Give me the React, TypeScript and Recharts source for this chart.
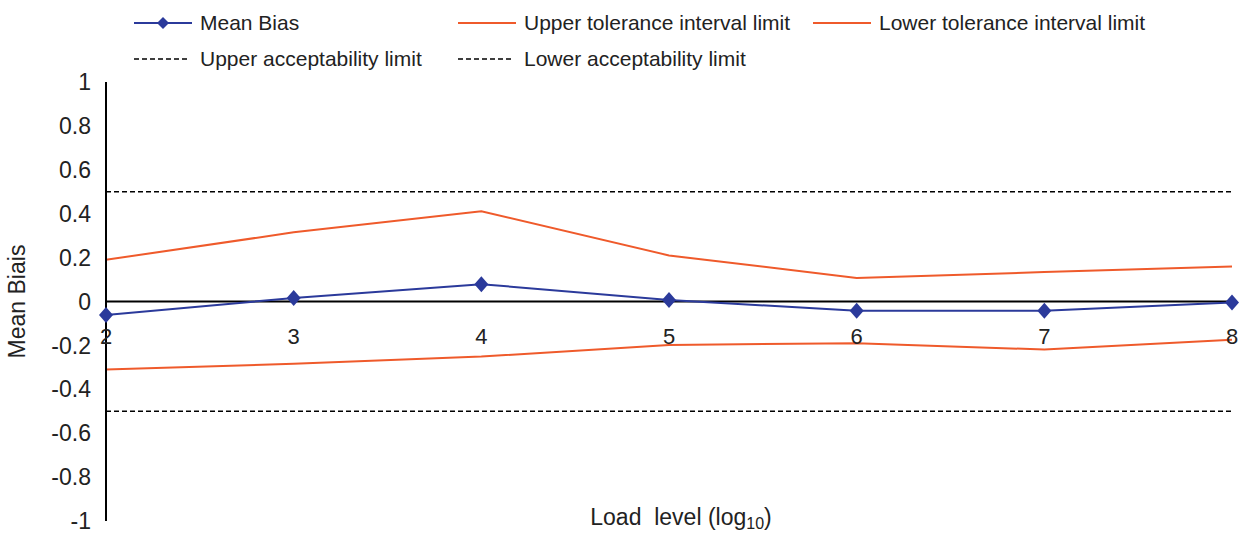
import React from "react";
import {
  LineChart,
  Line,
  XAxis,
  YAxis,
  Legend,
  ReferenceLine,
  ReferenceDot,
} from "recharts";

const LOAD_LEVELS = [2, 3, 4, 5, 6, 7, 8];
const MEAN_BIAS = [-0.062, 0.016, 0.079, 0.007, -0.042, -0.042, -0.005];
const UPPER_TOL = [0.19, 0.315, 0.411, 0.21, 0.107, 0.134, 0.159];
const LOWER_TOL = [-0.31, -0.284, -0.251, -0.198, -0.19, -0.219, -0.174];
const Y_TICKS = [-1, -0.8, -0.6, -0.4, -0.2, 0, 0.2, 0.4, 0.6, 0.8, 1];
const UPPER_ACCEPT = 0.5;
const LOWER_ACCEPT = -0.5;

const BLUE = "#2b3a9b";
const ORANGE = "#ef5a2b";
const TEXT = "#222";
const FONT = "'Liberation Sans', Arial, sans-serif";

const data = LOAD_LEVELS.map((x, i) => ({
  x,
  bias: MEAN_BIAS[i],
  upper: UPPER_TOL[i],
  lower: LOWER_TOL[i],
}));

const Diamond = (props: any) => {
  const { cx, cy } = props;
  if (cx == null || cy == null) return null;
  const w = 7;
  const h = 8;
  return (
    <path
      d={`M${cx},${cy - h} L${cx + w},${cy} L${cx},${cy + h} L${cx - w},${cy} Z`}
      fill={BLUE}
      stroke="none"
    />
  );
};

const legendItems = [
  { label: "Mean Bias", kind: "bias" },
  { label: "Upper tolerance interval limit", kind: "tol" },
  { label: "Lower tolerance interval limit", kind: "tol" },
  { label: "Upper acceptability limit", kind: "dash" },
  { label: "Lower acceptability limit", kind: "dash" },
];

const LegendIcon = ({ kind }: { kind: string }) => (
  <svg width={58} height={12} style={{ marginRight: 8, flexShrink: 0 }}>
    {kind === "bias" && (
      <>
        <line x1={0} y1={6} x2={58} y2={6} stroke={BLUE} strokeWidth={2} />
        <path d="M29,0 L35,6 L29,12 L23,6 Z" fill={BLUE} />
      </>
    )}
    {kind === "tol" && <line x1={0} y1={6} x2={58} y2={6} stroke={ORANGE} strokeWidth={2} />}
    {kind === "dash" && (
      <line x1={0} y1={6} x2={56} y2={6} stroke="#000" strokeWidth={1.6} strokeDasharray="5 3" />
    )}
  </svg>
);

const LegendContent = () => (
  <div
    style={{
      display: "grid",
      gridTemplateColumns: "324px 355px auto",
      gridAutoRows: "36px",
      paddingLeft: 134,
      paddingTop: 5,
      fontFamily: FONT,
      fontSize: 21,
      color: TEXT,
    }}
  >
    {legendItems.map((it) => (
      <div key={it.label} style={{ display: "flex", alignItems: "center", whiteSpace: "nowrap" }}>
        <LegendIcon kind={it.kind} />
        <span>{it.label}</span>
      </div>
    ))}
  </div>
);

const XLabel = (props: any) => {
  const { viewBox } = props;
  const cx = viewBox.x + viewBox.width / 2 + 12;
  const y = viewBox.y + 4;
  return (
    <text x={cx} y={y} textAnchor="middle" fontFamily={FONT} fontSize={23} fill={TEXT} style={{ whiteSpace: "pre" }}>
      {"Load  level (log"}
      <tspan fontSize={16} dy={4}>10</tspan>
      <tspan dy={-4}>)</tspan>
    </text>
  );
};

export default function App() {
  return (
    <div style={{ position: "absolute", left: 0, top: 0, background: "#fff" }}>
      <LineChart
        width={1240}
        height={533}
        data={data}
        margin={{ top: 6, right: 8, left: 0, bottom: 0 }}
      >
        <Legend
          verticalAlign="top"
          align="left"
          content={<LegendContent />}
          wrapperStyle={{ top: 0, left: 0, width: 1240, height: 76 }}
        />
        <XAxis
          type="number"
          dataKey="x"
          domain={[2, 8]}
          ticks={LOAD_LEVELS}
          axisLine={false}
          tickLine={false}
          tick={false}
          height={12}
          label={<XLabel />}
        />
        <YAxis
          type="number"
          domain={[-1, 1]}
          ticks={Y_TICKS}
          interval={0}
          width={106}
          tickLine={false}
          axisLine={{ stroke: "#000", strokeWidth: 2 }}
          tickMargin={9}
          tick={{ fill: TEXT, fontSize: 23, fontFamily: FONT }}
          tickFormatter={(v: number) => String(Math.round(v * 10) / 10)}
          label={{
            value: "Mean Biais",
            angle: -90,
            position: "insideLeft",
            offset: 17,
            style: { textAnchor: "middle", fill: TEXT, fontSize: 23, fontFamily: FONT },
          }}
        />
        <ReferenceLine y={UPPER_ACCEPT} stroke="#000" strokeWidth={1.6} strokeDasharray="5 3" />
        <ReferenceLine y={LOWER_ACCEPT} stroke="#000" strokeWidth={1.6} strokeDasharray="5 3" />
        <ReferenceLine y={0} stroke="#000" strokeWidth={2} />
        {LOAD_LEVELS.map((v) => (
          <ReferenceDot
            key={v}
            x={v}
            y={0}
            r={0}
            fill="none"
            stroke="none"
            label={{
              value: String(v),
              position: "bottom",
              offset: 27,
              fill: TEXT,
              fontSize: 22,
              fontFamily: FONT,
            }}
          />
        ))}
        <Line
          dataKey="upper"
          stroke={ORANGE}
          strokeWidth={2}
          dot={false}
          isAnimationActive={false}
        />
        <Line
          dataKey="lower"
          stroke={ORANGE}
          strokeWidth={2}
          dot={false}
          isAnimationActive={false}
        />
        <Line
          dataKey="bias"
          stroke={BLUE}
          strokeWidth={2}
          dot={<Diamond />}
          activeDot={false}
          isAnimationActive={false}
        />
      </LineChart>
    </div>
  );
}
